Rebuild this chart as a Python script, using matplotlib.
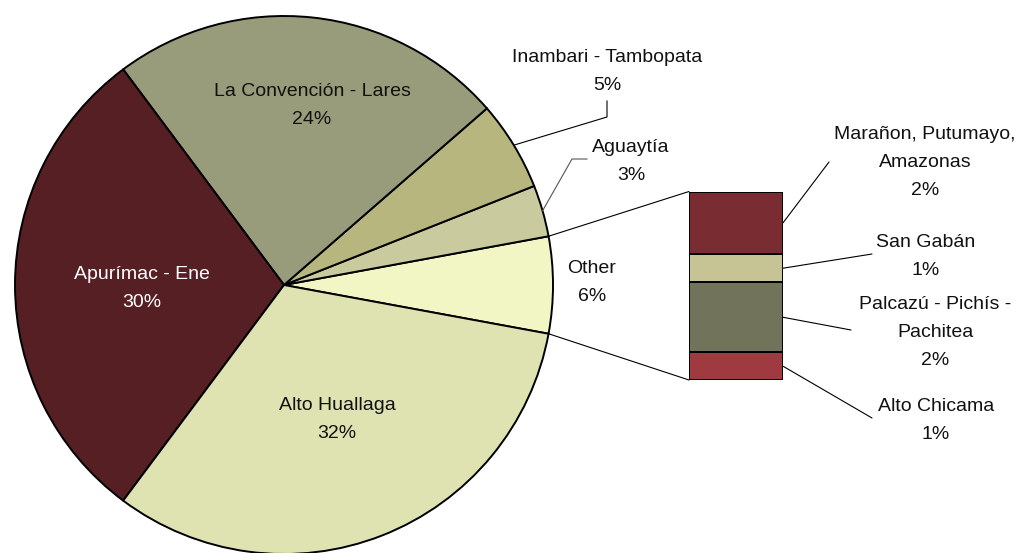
import matplotlib
matplotlib.use("Agg")
import matplotlib.pyplot as plt
import numpy as np
from matplotlib.patches import ConnectionPatch

plt.rcParams['font.family'] = ['Liberation Sans', 'DejaVu Sans']

# main pie, counter-clockwise starting with the grouped slice
pie_labels = ["Other", "Aguaytía", "Inambari - Tambopata", "La Convención - Lares",
              "Apurímac - Ene", "Alto Huallaga"]
pie_values = [5.8, 3.1, 5.4, 23.8, 29.6, 32.3]
pie_pct = ["6%", "3%", "5%", "24%", "30%", "32%"]
pie_colors = ["#F2F6C4", "#C9CB9F", "#B8B67F", "#989C7A", "#561F24", "#DFE3B1"]

# breakdown of "Other", bottom to top
bar_labels = ["Alto Chicama", "Palcazú - Pichís -\nPachitea", "San Gabán",
              "Marañon, Putumayo,\nAmazonas"]
bar_values = [0.85, 2.16, 0.86, 1.93]
bar_pct = ["1%", "2%", "1%", "2%"]
bar_colors = ["#9E3A40", "#71745B", "#C6C494", "#7A2C33"]

W, H = 1021, 553
fig = plt.figure(figsize=(W / 100, H / 100), dpi=100)
ax = fig.add_axes([0, 0, 1, 1])

cx, cy, r = 284, H - 285, 269
start = -pie_values[0] / 2 * 3.6
wedges, _ = ax.pie(pie_values, colors=pie_colors, startangle=start, center=(cx, cy),
                   radius=r, counterclock=True,
                   wedgeprops=dict(edgecolor="black", linewidth=1.4))
ax.set_xlim(0, W)
ax.set_ylim(0, H)
ax.set_aspect("auto")
ax.axis("off")


def put_label(x, y, lines, color="#111111"):
    # y is the pixel row (from top) of the first line's cap-centre
    for i, t in enumerate(lines):
        ax.text(x, H - (y + 7 + i * 27.8), t, ha="center", va="baseline",
                fontsize=14, color=color)


def edge_point(w):
    a = np.deg2rad((w.theta1 + w.theta2) / 2)
    return cx + r * np.cos(a), cy + r * np.sin(a)


# labels inside / next to the pie
pie_text_pos = {
    "Other": (592, 266),
    "Aguaytía": (631, 145),
    "Inambari - Tambopata": (607, 55),
    "La Convención - Lares": (312, 89),
    "Apurímac - Ene": (142, 272),
    "Alto Huallaga": (337, 403),
}
for lab, pct, w in zip(pie_labels, pie_pct, wedges):
    x, y = pie_text_pos[lab]
    col = "white" if lab == "Apurímac - Ene" else "#111111"
    put_label(x, y, [lab, pct], col)

# leader lines for the two thin slices
px, py = edge_point(wedges[2])
ax.plot([px, 607, 607], [py, H - 117, H - 101], color="black", lw=0.8)
px, py = edge_point(wedges[1])
ax.plot([px, 572, 587], [py, H - 159, H - 159], color="#555555", lw=0.8)

# stacked bar for the "Other" breakdown
bx0, bx1, by0, by1 = 689, 783, 380, 191.5
ax2 = fig.add_axes([bx0 / W, (H - by0) / H, (bx1 - bx0) / W, (by0 - by1) / H])
bottoms = np.concatenate([[0], np.cumsum(bar_values)[:-1]])
ax2.bar(0, bar_values, bottom=bottoms, width=1, color=bar_colors,
        edgecolor="black", linewidth=1.4)
ax2.set_xlim(-0.5, 0.5)
ax2.set_ylim(0, sum(bar_values))
ax2.axis("off")

# connectors from the grouped slice to the bar
ow = wedges[0]
for ang, yb in [(ow.theta2, sum(bar_values)), (ow.theta1, 0)]:
    a = np.deg2rad(ang)
    con = ConnectionPatch(xyA=(cx + r * np.cos(a), cy + r * np.sin(a)), coordsA=ax.transData,
                          xyB=(-0.5, yb), coordsB=ax2.transData, color="black", lw=0.8)
    fig.add_artist(con)

# bar labels and their leader lines
bar_text_pos = [(936, 404), (935, 302), (926, 240), (925, 132)]
bar_line_end = [(872, 418), (851, 330), (872, 254), (829, 162)]
for lab, pct, b, v, (tx, ty), (lx, ly) in zip(bar_labels, bar_pct, bottoms, bar_values,
                                             bar_text_pos, bar_line_end):
    put_label(tx, ty, lab.split("\n") + [pct])
    con = ConnectionPatch(xyA=(0.5, b + v / 2), coordsA=ax2.transData,
                          xyB=(lx, H - ly), coordsB=ax.transData, color="black", lw=0.8)
    fig.add_artist(con)

fig.savefig("out.png", dpi=100)
